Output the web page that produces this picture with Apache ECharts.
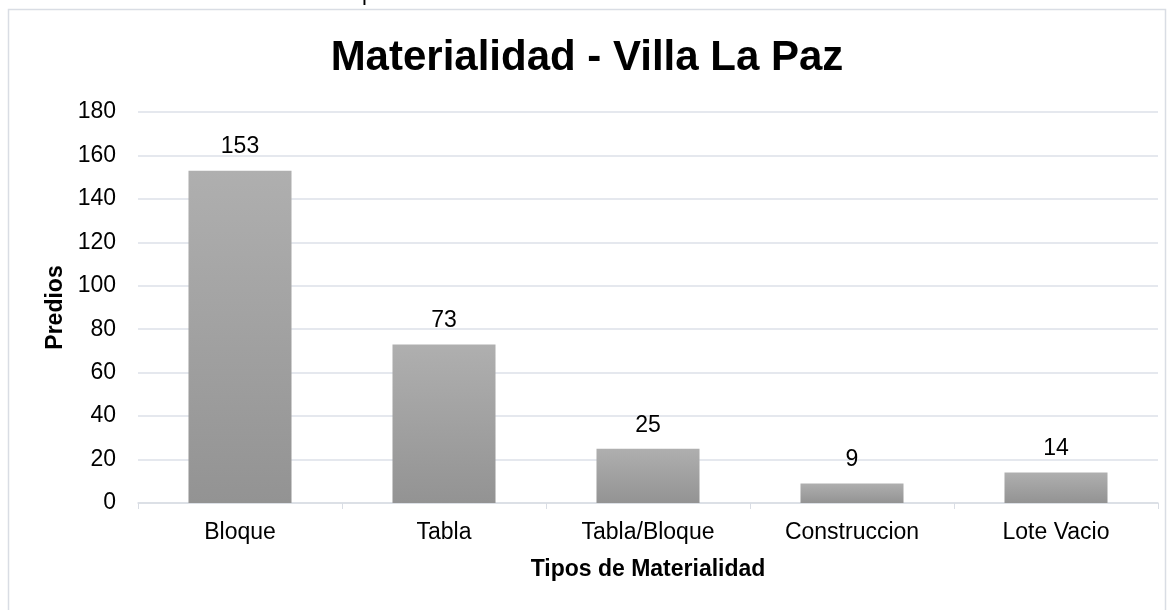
<!DOCTYPE html>
<html>
<head>
<meta charset="utf-8">
<script src="https://cdn.jsdelivr.net/npm/echarts@6/dist/echarts.min.js"></script>
<style>
  html, body { margin: 0; padding: 0; background: #fff; }
  #chart { width: 1174px; height: 610px; }
</style>
</head>
<body>
<div id="chart"></div>
<script>
const categories = ['Bloque', 'Tabla', 'Tabla/Bloque', 'Construccion', 'Lote Vacio'];
const predios = [153, 73, 25, 9, 14];
const yTicks = [0, 20, 40, 60, 80, 100, 120, 140, 160, 180];

const font = '"Liberation Sans", Arial, sans-serif';
const chart = echarts.init(document.getElementById('chart'));

chart.setOption({
  animation: false,
  title: {
    text: 'Materialidad - Villa La Paz',
    left: 'center',
    top: 32,
    textStyle: { fontFamily: font, fontSize: 42, fontWeight: 'bold', color: '#000' }
  },
  graphic: [
    {
      type: 'rect',
      shape: { x: 8.5, y: 9.5, width: 1157, height: 620 },
      style: { fill: 'none', stroke: '#d9dde4', lineWidth: 1.5 },
      silent: true
    },
    {
      // leftover of the text above the chart, cut by the page edge
      type: 'text',
      left: 362,
      top: -17,
      style: { text: 'p', font: '22px ' + font, fill: '#000' }
    }
  ],
  grid: { left: 138, right: 16, top: 112, bottom: 107 },
  xAxis: {
    type: 'category',
    data: categories,
    name: 'Tipos de Materialidad',
    nameLocation: 'middle',
    nameGap: 55,
    nameTextStyle: { fontFamily: font, fontSize: 23, fontWeight: 'bold', color: '#000' },
    axisLine: { lineStyle: { color: '#d9dde4', width: 1.5 } },
    axisTick: { show: true, length: 6, lineStyle: { color: '#d9dde4' } },
    axisLabel: { fontFamily: font, fontSize: 23, color: '#000', margin: 18 }
  },
  yAxis: {
    type: 'value',
    min: 0,
    max: 180,
    interval: 20,
    name: 'Predios',
    nameLocation: 'middle',
    nameGap: 71,
    nameTextStyle: { fontFamily: font, fontSize: 23, fontWeight: 'bold', color: '#000' },
    axisLine: { show: false },
    axisTick: { show: false },
    splitLine: { lineStyle: { color: '#dde1e8', width: 1.5 } },
    axisLabel: {
      fontFamily: font, fontSize: 23, color: '#000', margin: 22,
      formatter: v => yTicks.includes(v) ? String(v) : ''
    }
  },
  series: [{
    type: 'bar',
    data: predios,
    barWidth: '50.5%',
    itemStyle: {
      color: new echarts.graphic.LinearGradient(0, 0, 0, 1, [
        { offset: 0, color: '#afafaf' },
        { offset: 1, color: '#939393' }
      ])
    },
    label: {
      show: true,
      position: 'top',
      distance: 12,
      fontFamily: font,
      fontSize: 23,
      color: '#000'
    }
  }]
});
</script>
</body>
</html>
